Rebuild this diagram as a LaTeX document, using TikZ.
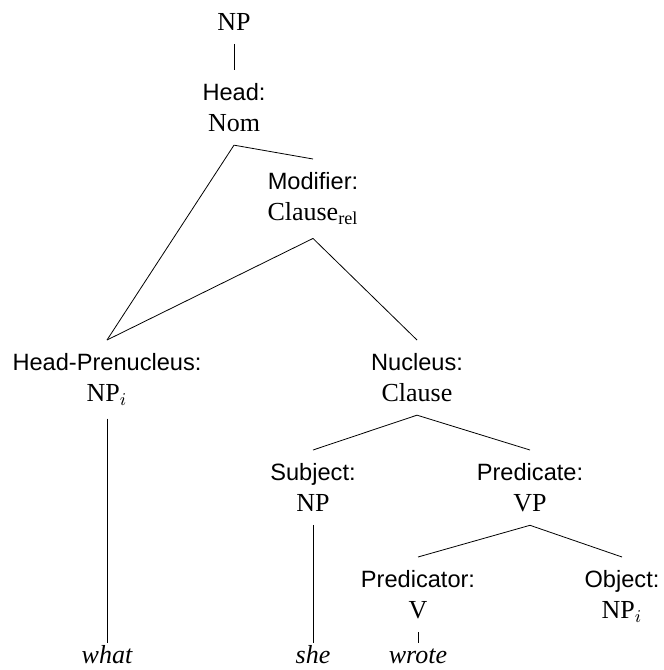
\documentclass[tikz,border=0pt]{standalone}
\usepackage{fontspec}
\setmainfont{Liberation Serif}
\setsansfont{Liberation Sans}
\usepackage{tikz}

\newcommand{\gramfn}[1]{{\sffamily\fontsize{11.8}{15.5}\selectfont #1}}

\tikzset{
  cat/.style={anchor=north, align=center, inner xsep=0pt, inner ysep=6.5pt,
    font=\fontsize{13}{15.5}\selectfont},
  leaf/.style={anchor=base, inner sep=0pt, text height=10pt,
    font=\fontsize{13}{15.5}\selectfont\itshape}
}

\begin{document}
\begin{tikzpicture}[x=0.5pt, y=-0.5pt]
                \useasboundingbox (0,0) rectangle (664,670);

                % Top of the tree
                \node[cat] (np) at (234,0) {NP};
                \node[cat] (head) at (234,70) {\gramfn{Head:}\\Nom};
                \node[cat] (mod) at (313,159) {\gramfn{Modifier:}\\Clause\textsubscript{rel}};

                % Relative clause
                \node[cat] (hpre) at (107,340) {\gramfn{Head-Prenucleus:}\\NP$_i$};
                \node[cat] (nuc) at (417,340) {\gramfn{Nucleus:}\\Clause};
                \node[cat] (subj) at (313,450) {\gramfn{Subject:}\\NP};
                \node[cat] (pred) at (530,450) {\gramfn{Predicate:}\\VP};
                \node[cat] (predr) at (418,557) {\gramfn{Predicator:}\\V};
                \node[cat] (obj) at (622,557) {\gramfn{Object:}\\NP$_i$};

                % Words
                \node[leaf] (what) at (107,663) {what};
                \node[leaf] (she) at (313,663) {she};
                \node[leaf] (wrote) at (418,663) {wrote};

                % Branches
                \draw (np.south) -- (head.north);
                \draw (head.south) -- (mod.north);
                \draw (head.south) -- (hpre.north);
                \draw (mod.south) -- (hpre.north);
                \draw (mod.south) -- (nuc.north);
                \draw (nuc.south) -- (subj.north);
                \draw (nuc.south) -- (pred.north);
                \draw (pred.south) -- (predr.north);
                \draw (pred.south) -- (obj.north);

                % Lines down to the words
                \draw (hpre.south) -- (what.north);
                \draw (subj.south) -- (she.north);
                \draw (predr.south) -- (wrote.north);
\end{tikzpicture}
\end{document}
